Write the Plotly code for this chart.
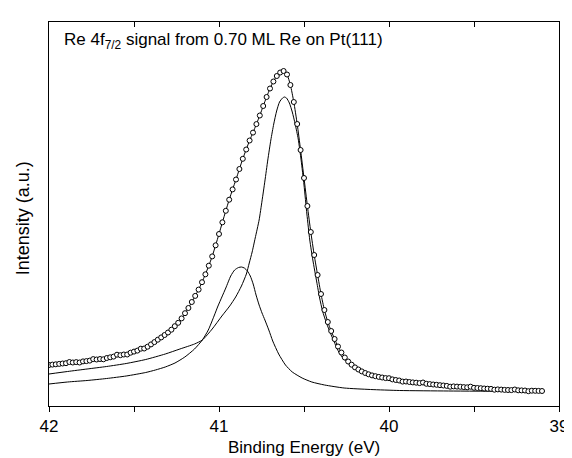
import plotly.graph_objects as go

# Binding energy grid of the measured spectrum (eV)
energy = [42.00, 41.98, 41.96, 41.94, 41.92, 41.90, 41.88, 41.86, 41.84, 41.82,
          41.80, 41.78, 41.76, 41.74, 41.72, 41.70, 41.68, 41.66, 41.64, 41.62,
          41.60, 41.58, 41.56, 41.54, 41.52, 41.50, 41.48, 41.46, 41.44, 41.42,
          41.40, 41.38, 41.36, 41.34, 41.32, 41.30, 41.28, 41.26, 41.24, 41.22,
          41.20, 41.18, 41.16, 41.14, 41.12, 41.10, 41.08, 41.06, 41.04, 41.02,
          41.00, 40.98, 40.96, 40.94, 40.92, 40.90, 40.88, 40.86, 40.84, 40.82,
          40.80, 40.78, 40.76, 40.74, 40.72, 40.70, 40.68, 40.66, 40.64, 40.62,
          40.60, 40.58, 40.56, 40.54, 40.52, 40.50, 40.48, 40.46, 40.44, 40.42,
          40.40, 40.38, 40.36, 40.34, 40.32, 40.30, 40.28, 40.26, 40.24, 40.22,
          40.20, 40.18, 40.16, 40.14, 40.12, 40.10, 40.08, 40.06, 40.04, 40.02,
          40.00, 39.98, 39.96, 39.94, 39.92, 39.90, 39.88, 39.86, 39.84, 39.82,
          39.80, 39.78, 39.76, 39.74, 39.72, 39.70, 39.68, 39.66, 39.64, 39.62,
          39.60, 39.58, 39.56, 39.54, 39.52, 39.50, 39.48, 39.46, 39.44, 39.42,
          39.40, 39.38, 39.36, 39.34, 39.32, 39.30, 39.28, 39.26, 39.24, 39.22,
          39.20, 39.18, 39.16, 39.14, 39.12, 39.10]

# Total fit envelope (a.u.)
fit_intensity = [41.0, 41.4, 41.7, 42.1, 42.5, 42.8, 43.2, 43.5, 43.9, 44.2,
                 44.6, 44.9, 45.4, 45.9, 46.5, 47.0, 47.5, 48.0, 48.7, 49.4,
                 50.1, 50.8, 51.5, 52.3, 53.3, 54.4, 55.4, 56.5, 57.5, 59.3,
                 61.6, 63.9, 66.3, 68.6, 71.0, 73.5, 76.3, 79.8, 83.2, 87.6,
                 92.8, 98.0, 104.0, 110.1, 116.4, 123.8, 131.7, 140.3, 149.6, 160.7,
                 172.0, 183.7, 195.2, 206.3, 216.6, 226.5, 237.0, 247.2, 256.5, 265.5,
                 273.4, 281.9, 290.5, 300.0, 309.0, 317.5, 324.5, 330.0, 333.5, 335.0,
                 331.5, 321.0, 304.0, 282.0, 256.0, 228.0, 200.0, 174.0, 151.0, 131.0,
                 112.0, 96.0, 84.0, 75.0, 67.0, 59.5, 53.5, 48.5, 44.5, 41.3,
                 38.6, 36.5, 34.6, 33.0, 31.7, 30.6, 29.8, 29.1, 28.5, 27.9,
                 27.1, 26.6, 26.0, 25.5, 25.0, 24.5, 24.0, 23.6, 23.3, 22.9,
                 22.6, 22.2, 21.9, 21.5, 21.2, 20.8, 20.5, 20.1, 19.9, 19.6,
                 19.4, 19.2, 18.9, 18.7, 18.5, 18.2, 18.0, 17.8, 17.5, 17.3,
                 17.1, 16.8, 16.6, 16.4, 16.1, 16.0, 15.9, 15.8, 15.7, 15.6,
                 15.5, 15.4, 15.3, 15.2, 15.1, 15.0]

# Measured points (a.u.)
measured_intensity = [41.0, 41.4, 41.7, 42.1, 42.5, 42.8, 44.0, 43.5, 43.9, 43.5,
                      44.6, 44.9, 45.4, 46.9, 46.5, 47.0, 46.7, 48.0, 48.7, 49.4,
                      51.3, 50.8, 51.5, 51.5, 53.3, 54.4, 55.4, 57.3, 57.5, 59.3,
                      61.6, 63.9, 66.3, 68.6, 71.0, 73.5, 76.3, 79.8, 83.2, 87.6,
                      92.8, 98.0, 104.0, 110.1, 116.4, 123.8, 131.7, 140.3, 149.6, 160.7,
                      172.0, 183.7, 195.2, 206.3, 216.6, 226.5, 237.0, 247.2, 256.5, 265.5,
                      273.4, 281.9, 290.5, 300.0, 309.0, 317.5, 324.5, 330.0, 333.5, 335.0,
                      331.5, 321.0, 304.0, 282.0, 256.0, 228.0, 200.0, 174.0, 151.0, 131.0,
                      112.0, 96.0, 84.0, 75.0, 67.0, 59.5, 53.5, 48.5, 44.5, 41.3,
                      38.6, 36.5, 34.6, 33.0, 31.7, 30.6, 29.8, 29.1, 28.5, 27.9,
                      27.8, 26.6, 26.0, 25.5, 24.4, 24.5, 24.0, 23.6, 23.3, 22.9,
                      23.5, 22.2, 21.9, 21.5, 21.2, 20.8, 20.5, 20.1, 19.3, 19.6,
                      19.4, 19.2, 18.9, 18.7, 19.3, 18.2, 18.0, 17.8, 17.5, 17.3,
                      17.1, 16.3, 16.6, 16.4, 16.1, 16.0, 15.9, 16.5, 15.7, 15.6,
                      15.5, 14.8, 15.3, 15.2, 15.1, 15.0]

# Main component (low binding energy)
main_energy = [42.000, 41.891, 41.776, 41.661, 41.546, 41.431, 41.316, 41.230, 41.144, 41.098,
               41.040, 40.983, 40.937, 40.902, 40.868, 40.839, 40.822, 40.805, 40.787, 40.764,
               40.747, 40.730, 40.713, 40.695, 40.678, 40.661, 40.644, 40.626, 40.615, 40.603,
               40.586, 40.569, 40.552, 40.534, 40.517, 40.500, 40.483, 40.466, 40.448, 40.425,
               40.408, 40.391, 40.368, 40.345, 40.322, 40.305, 40.276, 40.236, 40.190, 40.121,
               39.994, 39.879, 39.707, 39.477, 39.086]
main_intensity = [32, 34.5, 37, 39.5, 42.5, 46.5, 52, 57, 62, 66,
                  77, 90, 100, 109, 120, 132, 143, 154, 168, 186,
                  205, 225, 246, 266, 282, 295, 304, 308, 309, 308,
                  303, 294, 282, 267, 246, 221, 192, 166, 146, 124,
                  108, 95, 83, 73, 64, 57, 49, 42, 36, 30.5,
                  26, 23, 20, 17, 14.5]

# Second component (high binding energy)
second_energy = [42.000, 41.891, 41.776, 41.661, 41.546, 41.431, 41.374, 41.316, 41.259, 41.201,
                 41.144, 41.098, 41.063, 41.029, 41.006, 40.983, 40.960, 40.931, 40.908, 40.885,
                 40.868, 40.851, 40.833, 40.816, 40.799, 40.782, 40.764, 40.747, 40.730, 40.707,
                 40.684, 40.649, 40.609, 40.569, 40.511, 40.454, 40.379, 40.264, 40.109, 39.937,
                 39.649, 39.086]
second_intensity = [22, 24, 25.5, 27.5, 30, 33.5, 36, 39, 43, 49,
                    57, 66, 76, 90, 100, 109, 118, 130, 136, 138.5,
                    139, 138, 135, 130, 122, 111, 101, 93, 86, 76,
                    65, 52, 41, 34, 28, 24, 21, 18, 16.5, 15.5,
                    15, 14.5]

x_tick_vals = [42, 41, 40, 39]
x_tick_text = ["42", "41", "40", "39"]

FONT = "Arial, 'Liberation Sans', Helvetica, sans-serif"
spline = dict(color="black", width=1, shape="spline", smoothing=0.6)

fig = go.Figure()
fig.add_trace(go.Scatter(x=main_energy, y=main_intensity, mode="lines",
                         line=spline, hoverinfo="skip"))
fig.add_trace(go.Scatter(x=second_energy, y=second_intensity, mode="lines",
                         line=spline, hoverinfo="skip"))
fig.add_trace(go.Scatter(x=energy, y=fit_intensity, mode="lines",
                         line=spline, hoverinfo="skip"))
fig.add_trace(go.Scatter(x=energy, y=measured_intensity, mode="markers",
                         marker=dict(symbol="circle", size=5, color="white",
                                     line=dict(color="black", width=1))))
# invisible trace to carry the top tick axis
fig.add_trace(go.Scatter(x=energy, y=fit_intensity, xaxis="x2", mode="lines",
                         line=dict(width=0), opacity=0, hoverinfo="skip"))

fig.update_layout(
    width=572, height=458,
    margin=dict(l=41, r=14, t=14, b=60),
    paper_bgcolor="white", plot_bgcolor="white",
    showlegend=False,
    font=dict(family=FONT, color="black"),
    xaxis=dict(range=[42, 39], tickvals=x_tick_vals, ticktext=x_tick_text,
               ticks="outside", ticklen=5, tickwidth=1, tickcolor="black",
               minor=dict(ticks="outside", ticklen=5, tickwidth=1, tickcolor="black",
                          dtick=0.5, tick0=39, showgrid=False),
               ticklabeloverflow="allow",
               showline=True, linecolor="black", linewidth=1, mirror=True,
               showgrid=False, zeroline=False,
               tickfont=dict(size=17, family=FONT, color="black")),
    xaxis2=dict(range=[42, 39], overlaying="x", side="top", anchor="y",
                tickvals=x_tick_vals, ticks="inside", ticklen=5, tickwidth=1,
                tickcolor="black",
                minor=dict(ticks="inside", ticklen=5, tickwidth=1, tickcolor="black",
                           dtick=0.5, tick0=39, showgrid=False),
                showticklabels=False, showgrid=False,
                zeroline=False, showline=False),
    yaxis=dict(range=[0, 384], showticklabels=False, ticks="",
               showline=True, linecolor="black", linewidth=1, mirror=True,
               showgrid=False, zeroline=False),
    annotations=[
        dict(text="Re 4f<sub>7/2</sub> signal from 0.70 ML Re on Pt(111)",
             xref="paper", yref="paper", x=0.025, y=0.95, xanchor="left",
             yanchor="middle", showarrow=False,
             font=dict(size=17, family=FONT, color="black")),
        dict(text="Binding Energy (eV)", xref="paper", yref="paper",
             x=0.5, y=-0.109, xanchor="center", yanchor="middle", showarrow=False,
             font=dict(size=17, family=FONT, color="black")),
        dict(text="Intensity (a.u.)", xref="paper", yref="paper",
             x=-0.052, y=0.49, xanchor="center", yanchor="middle", showarrow=False,
             textangle=-90, font=dict(size=18, family=FONT, color="black")),
    ],
)

fig.write_html("out.html")
